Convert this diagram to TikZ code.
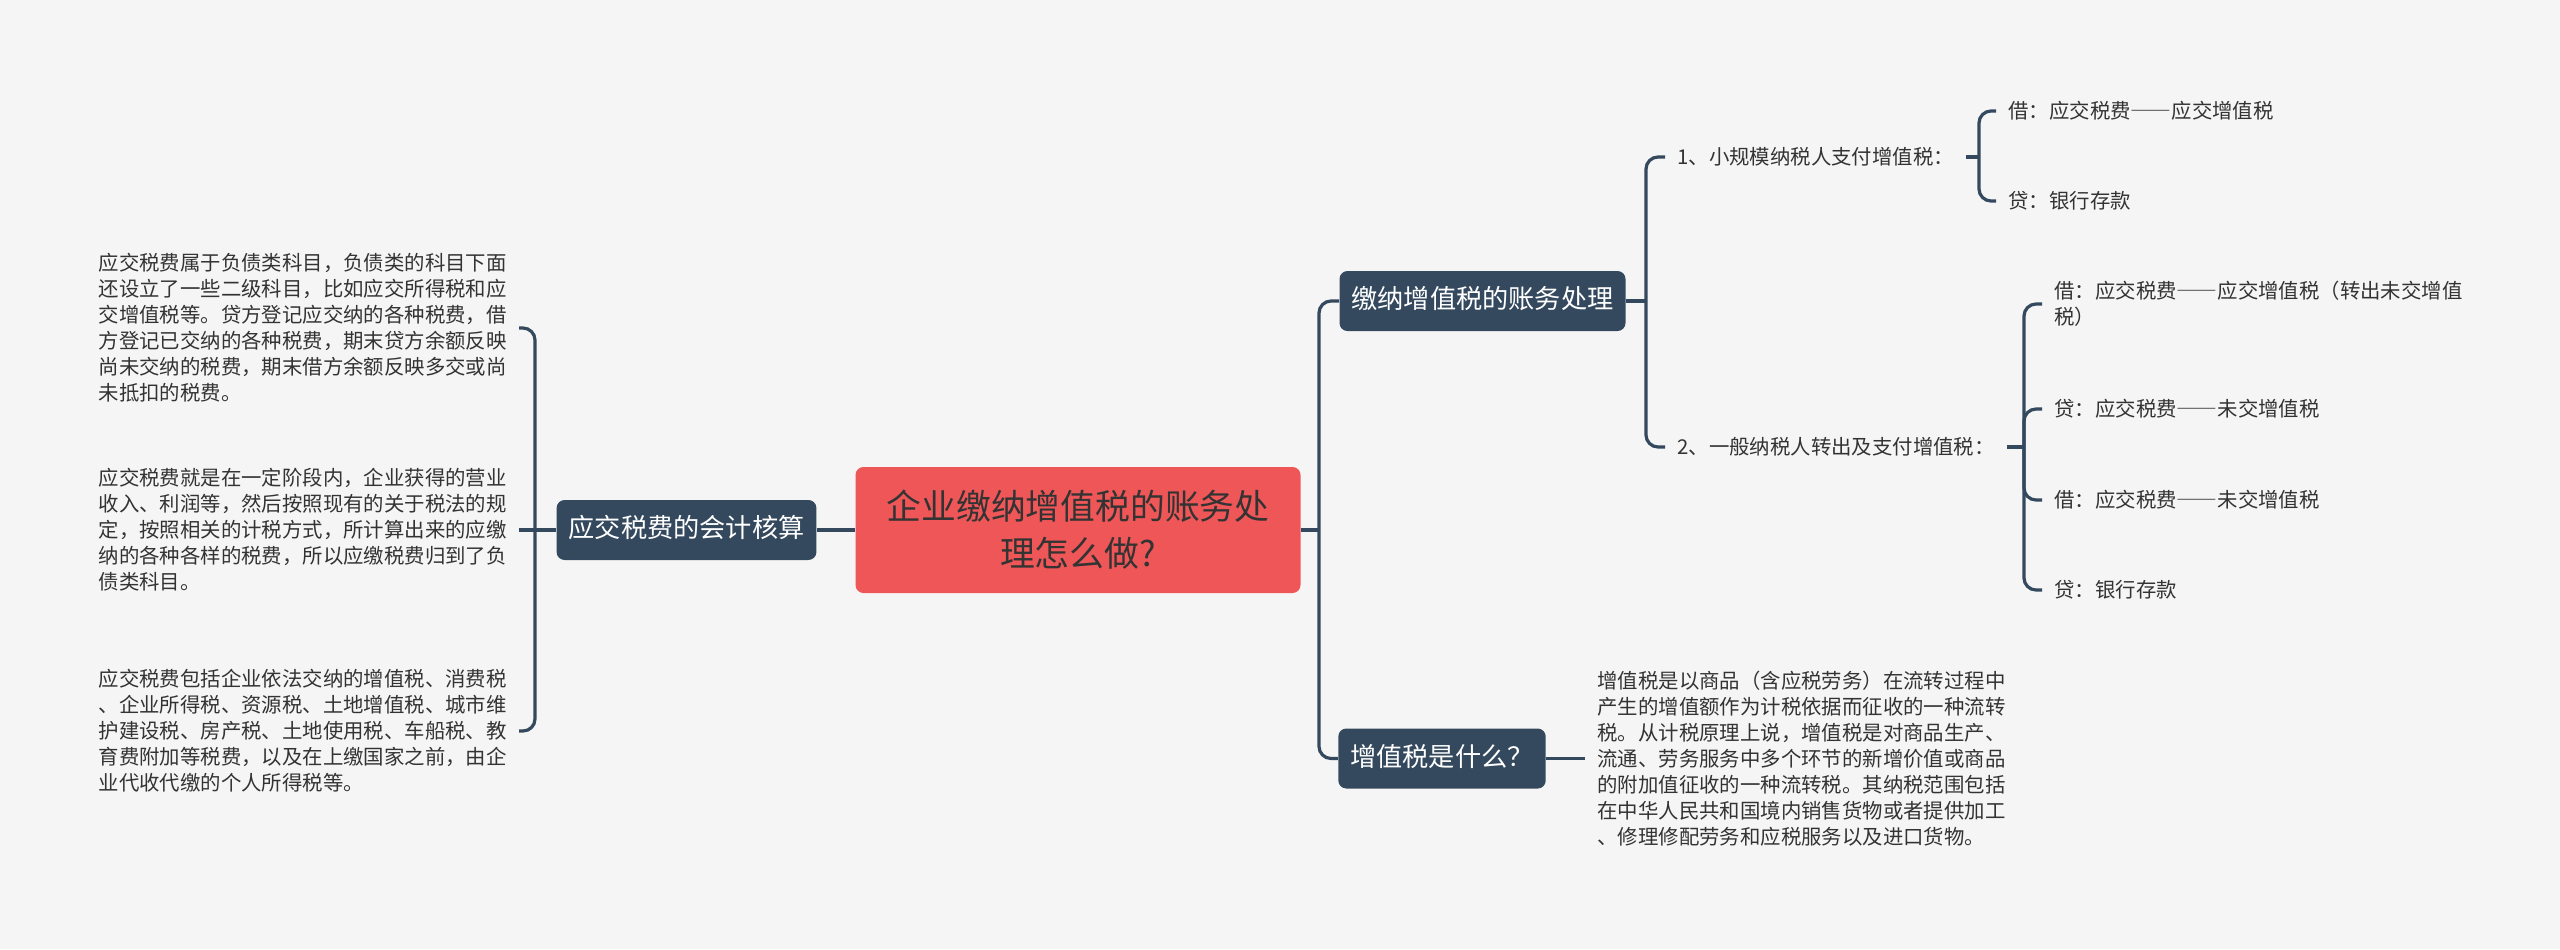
\documentclass[tikz,border=0pt]{standalone}
\usepackage{fontspec}
\setmainfont{Noto Sans CJK SC}
\usepackage{xcolor}
\usetikzlibrary{positioning}
\definecolor{bgcol}{HTML}{F5F5F5}
\definecolor{navy}{HTML}{34495E}
\definecolor{rootred}{HTML}{EF5657}
\definecolor{inkgray}{HTML}{333333}
\newcommand{\fwdash}{{\addfontfeatures{RawFeature=+fwid}——}}

\begin{document}
\begin{tikzpicture}[x=0.5pt, y=-0.5pt,
  root/.style={fill=rootred, rounded corners=4pt, text=inkgray, font=\fontsize{17.4pt}{23.5pt}\selectfont, align=center, minimum width=222.5pt, minimum height=63pt},
  topic/.style={fill=navy, rounded corners=4pt, text=white, font=\fontsize{13.1pt}{16pt}\selectfont, inner xsep=6pt, minimum height=30pt, text height=0.88em, text depth=0.12em},
  leaf/.style={text=inkgray, font=\fontsize{10.2pt}{13pt}\selectfont, align=left, inner xsep=6pt, inner ysep=2pt},
  conn/.style={draw=navy, line width=1.6pt, rounded corners=6pt}]
\path[use as bounding box, fill=bgcol] (0,0) rectangle (2560,949);

\node[root] (root) at (1078,530) {企业缴纳增值税的账务处\\理怎么做?};
\node[topic] (acct) at (686.5,530) {应交税费的会计核算};
\node[topic] (pay) at (1482.5,301) {缴纳增值税的账务处理};
\node[topic] (vat) at (1442,758.5) {增值税是什么？};

\node[leaf, anchor=east] (def1) at (519,328) {应交税费属于负债类科目，负债类的科目下面\\还设立了一些二级科目，比如应交所得税和应\\交增值税等。贷方登记应交纳的各种税费，借\\方登记已交纳的各种税费，期末贷方余额反映\\尚未交纳的税费，期末借方余额反映多交或尚\\未抵扣的税费。};
\node[leaf, anchor=east] (def2) at (519,530) {应交税费就是在一定阶段内，企业获得的营业\\收入、利润等，然后按照现有的关于税法的规\\定，按照相关的计税方式，所计算出来的应缴\\纳的各种各样的税费，所以应缴税费归到了负\\债类科目。};
\node[leaf, anchor=east] (def3) at (519,731) {应交税费包括企业依法交纳的增值税、消费税\\、企业所得税、资源税、土地增值税、城市维\\护建设税、房产税、土地使用税、车船税、教\\育费附加等税费，以及在上缴国家之前，由企\\业代收代缴的个人所得税等。};

\node[leaf, anchor=west] (small) at (1665,157) {1、小规模纳税人支付增值税：};
\node[leaf, anchor=west] (general) at (1665,447) {2、一般纳税人转出及支付增值税：};
\node[leaf, anchor=west] (s1) at (1996,111) {借：应交税费\fwdash 应交增值税};
\node[leaf, anchor=west] (s2) at (1996,201) {贷：银行存款};
\node[leaf, anchor=west] (g1) at (2042,304) {借：应交税费\fwdash 应交增值税（转出未交增值\\税）};
\node[leaf, anchor=west] (g2) at (2042,409) {贷：应交税费\fwdash 未交增值税};
\node[leaf, anchor=west] (g3) at (2042,500) {借：应交税费\fwdash 未交增值税};
\node[leaf, anchor=west] (g4) at (2042,590) {贷：银行存款};
\node[leaf, anchor=west] (what) at (1585,758.5) {增值税是以商品（含应税劳务）在流转过程中\\产生的增值额作为计税依据而征收的一种流转\\税。从计税原理上说，增值税是对商品生产、\\流通、劳务服务中多个环节的新增价值或商品\\的附加值征收的一种流转税。其纳税范围包括\\在中华人民共和国境内销售货物或者提供加工\\、修理修配劳务和应税服务以及进口货物。};

\coordinate (rootR) at (1319,530);
\coordinate (rootL) at (535,530);
\coordinate (payR) at (1646,301);
\coordinate (smallR) at (1979,157);
\coordinate (generalR) at (2024,447);

\draw[conn] (root.east) -- (rootR);
\draw[conn] (rootR) |- (pay.west);
\draw[conn] (rootR) |- (vat.west);
\draw[conn] (root.west) -- (acct.east);
\draw[conn] (acct.west) -- (rootL);
\draw[conn] (rootL) |- (def1.east);
\draw[conn] (rootL) -- (def2.east);
\draw[conn] (rootL) |- (def3.east);
\draw[conn] (pay.east) -- (payR);
\draw[conn] (payR) |- (small.west);
\draw[conn] (payR) |- (general.west);
\draw[conn] (small.east) -- (smallR);
\draw[conn] (smallR) |- (s1.west);
\draw[conn] (smallR) |- (s2.west);
\draw[conn] (general.east) -- (generalR);
\draw[conn] (generalR) |- (g1.west);
\draw[conn] (generalR) |- (g2.west);
\draw[conn] (generalR) |- (g3.west);
\draw[conn] (generalR) |- (g4.west);
\draw[conn] (vat.east) -- (what.west);
\end{tikzpicture}
\end{document}
